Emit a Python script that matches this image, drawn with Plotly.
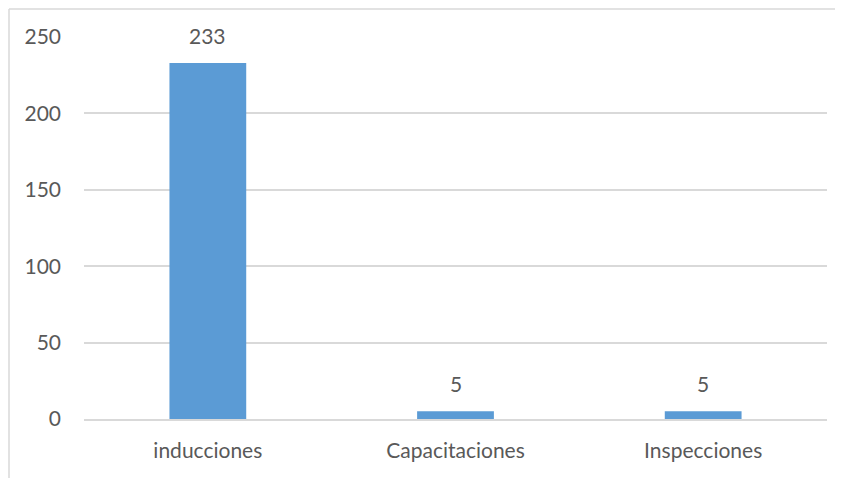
import plotly.graph_objects as go

categories = ["inducciones", "Capacitaciones", "Inspecciones"]
values = [233, 5, 5]
y_ticks = [0, 50, 100, 150, 200, 250]

# page body has an 8px default margin, figure origin is at (8, 8)
W, H = 835, 470
L, R, T, B = 76, 16, 29, 59
pw, ph = W - L - R, H - T - B

FONT = "Lato, Open Sans, sans-serif"
GRAY = "#595959"
BORDER = "#D9D9D9"

fig = go.Figure(go.Bar(
    x=categories, y=values,
    marker=dict(color="#5B9BD5", line=dict(width=0)),
    width=0.31,
    hoverinfo="x+y",
))

for c, v in zip(categories, values):
    fig.add_annotation(x=c, y=v, text=str(v), showarrow=False,
                       yanchor="bottom", yshift=13,
                       font=dict(family=FONT, size=21, color=GRAY))

x_left = (1 - L) / pw
y_top = 1 + (T - 1) / ph

fig.update_layout(
    width=W, height=H,
    margin=dict(l=L, r=R, t=T, b=B),
    paper_bgcolor="white", plot_bgcolor="white",
    showlegend=False,
    font=dict(family=FONT, size=21, color=GRAY),
    xaxis=dict(showgrid=False, showline=True, linecolor=BORDER, linewidth=1.5,
               ticks="", ticklabelstandoff=12, tickfont=dict(size=21, color=GRAY)),
    yaxis=dict(range=[0, 250], tickvals=y_ticks, showgrid=True, gridcolor=BORDER,
               gridwidth=1.5, zeroline=False, showline=False, ticks="",
               ticklabelstandoff=22, tickfont=dict(size=21, color=GRAY)),
    shapes=[
        dict(type="line", xref="paper", yref="paper",
             x0=x_left, x1=x_left, y0=-0.5, y1=y_top,
             line=dict(color=BORDER, width=1.5), layer="below"),
        dict(type="line", xref="paper", yref="paper",
             x0=x_left, x1=1.5, y0=y_top, y1=y_top,
             line=dict(color=BORDER, width=1.5), layer="below"),
    ],
)

fig.write_html("out.html")
